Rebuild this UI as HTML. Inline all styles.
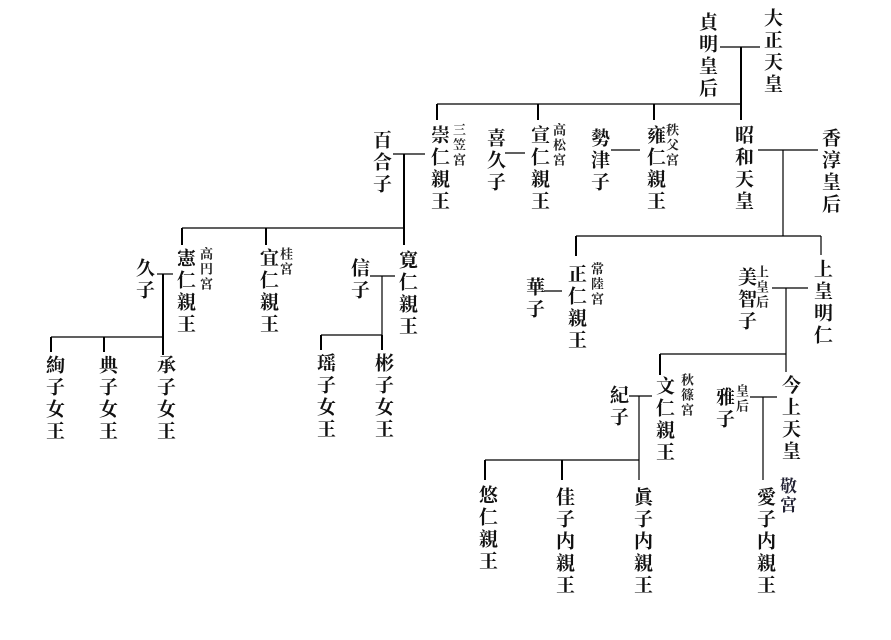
<!DOCTYPE html>
<html><head><meta charset="utf-8"><style>
body{margin:0;width:891px;height:640px;background:#fff;position:relative;overflow:hidden}
.t{position:absolute;writing-mode:vertical-rl;text-orientation:upright;font-family:"Liberation Serif","Noto Serif CJK SC","Noto Sans CJK JP",serif;font-size:19px;line-height:19px;letter-spacing:3px;color:#111;font-weight:bold}
.s{font-size:13px;line-height:13px;letter-spacing:2px;font-weight:bold;color:#222}
svg{position:absolute;left:0;top:0}
</style></head><body>
<svg width="891" height="640" stroke="#000" fill="none">
<g stroke-width="1.2">
<line x1="720" y1="47" x2="760" y2="47"/>
<line x1="437" y1="104" x2="741" y2="104"/>
<line x1="393" y1="154" x2="425" y2="154"/>
<line x1="505" y1="153" x2="525" y2="153"/>
<line x1="611" y1="150" x2="640" y2="150"/>
<line x1="758" y1="150" x2="818" y2="150"/>
<line x1="182" y1="228" x2="404" y2="228"/>
<line x1="157" y1="274" x2="173" y2="274"/>
<line x1="370" y1="276" x2="395" y2="276"/>
<line x1="51" y1="337" x2="163" y2="337"/>
<line x1="321" y1="335" x2="382" y2="335"/>
<line x1="576" y1="236" x2="821" y2="236"/>
<line x1="544" y1="291" x2="562" y2="291"/>
<line x1="772" y1="288" x2="808" y2="288"/>
<line x1="660" y1="354" x2="786" y2="354"/>
<line x1="629" y1="396" x2="652" y2="396"/>
<line x1="750" y1="397" x2="777" y2="397"/>
<line x1="485" y1="460" x2="639" y2="460"/>
<line x1="783" y1="150" x2="783" y2="236"/>
<line x1="821" y1="236" x2="821" y2="255"/>
<line x1="786" y1="288" x2="786" y2="372"/>
<line x1="639" y1="396" x2="639" y2="480"/>
<line x1="763" y1="397" x2="763" y2="480"/>
<line x1="382" y1="276" x2="382" y2="335"/>
</g>
<g stroke-width="2">
<line x1="741" y1="47" x2="741" y2="120"/>
<line x1="437" y1="104" x2="437" y2="120"/>
<line x1="538" y1="104" x2="538" y2="120"/>
<line x1="654" y1="104" x2="654" y2="120"/>
<line x1="404" y1="154" x2="404" y2="245"/>
<line x1="182" y1="228" x2="182" y2="245"/>
<line x1="266" y1="228" x2="266" y2="245"/>
<line x1="163" y1="274" x2="163" y2="355"/>
<line x1="51" y1="337" x2="51" y2="352"/>
<line x1="104" y1="337" x2="104" y2="352"/>
<line x1="321" y1="335" x2="321" y2="350"/>
<line x1="382" y1="335" x2="382" y2="350"/>
<line x1="576" y1="236" x2="576" y2="256"/>
<line x1="660" y1="354" x2="660" y2="375"/>
<line x1="485" y1="460" x2="485" y2="480"/>
<line x1="562" y1="460" x2="562" y2="480"/>
</g>
</svg>
<div class="t" style="left:762px;top:8px">大正天皇</div>
<div class="t" style="left:697px;top:12px">貞明皇后</div>
<div class="t" style="left:429px;top:125px">崇仁親王</div>
<div class="t s" style="left:452px;top:123px">三笠宮</div>
<div class="t" style="left:371px;top:130px">百合子</div>
<div class="t" style="left:485px;top:128px">喜久子</div>
<div class="t" style="left:529px;top:125px">宣仁親王</div>
<div class="t s" style="left:552px;top:123px">高松宮</div>
<div class="t" style="left:589px;top:128px">勢津子</div>
<div class="t" style="left:645px;top:125px">雍仁親王</div>
<div class="t s" style="left:665px;top:123px">秩父宮</div>
<div class="t" style="left:733px;top:125px">昭和天皇</div>
<div class="t" style="left:820px;top:128px">香淳皇后</div>
<div class="t" style="left:175px;top:248px">憲仁親王</div>
<div class="t s" style="left:199px;top:247px">高円宮</div>
<div class="t" style="left:134px;top:258px">久子</div>
<div class="t" style="left:258px;top:248px">宜仁親王</div>
<div class="t s" style="left:279px;top:247px">桂宮</div>
<div class="t" style="left:397px;top:250px">寛仁親王</div>
<div class="t" style="left:349px;top:258px">信子</div>
<div class="t" style="left:44px;top:355px">絢子女王</div>
<div class="t" style="left:97px;top:355px">典子女王</div>
<div class="t" style="left:155px;top:355px">承子女王</div>
<div class="t" style="left:315px;top:353px">瑶子女王</div>
<div class="t" style="left:373px;top:353px">彬子女王</div>
<div class="t" style="left:566px;top:264px">正仁親王</div>
<div class="t s" style="left:590px;top:262px">常陸宮</div>
<div class="t" style="left:524px;top:277px">華子</div>
<div class="t" style="left:812px;top:259px">上皇明仁</div>
<div class="t" style="left:736px;top:267px">美智子</div>
<div class="t s" style="left:755px;top:265px">上皇后</div>
<div class="t" style="left:654px;top:376px">文仁親王</div>
<div class="t s" style="left:680px;top:373px">秋篠宮</div>
<div class="t" style="left:608px;top:385px">紀子</div>
<div class="t" style="left:780px;top:375px">今上天皇</div>
<div class="t" style="left:714px;top:387px">雅子</div>
<div class="t s" style="left:735px;top:384px">皇后</div>
<div class="t" style="left:477px;top:485px">悠仁親王</div>
<div class="t" style="left:554px;top:487px">佳子内親王</div>
<div class="t" style="left:632px;top:487px">眞子内親王</div>
<div class="t" style="left:755px;top:487px">愛子内親王</div>
<div class="t" style="left:778px;top:477px;font-size:17px;line-height:17px;letter-spacing:2px;font-weight:bold;color:#223">敬宮</div>
</body></html>
